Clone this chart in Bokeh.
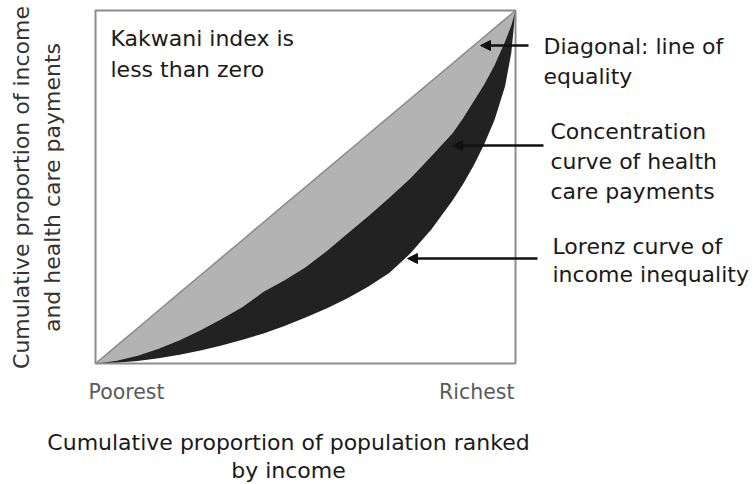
from bokeh.plotting import figure
from bokeh.models import Range1d, Label, Arrow, NormalHead, ColumnDataSource
from bokeh.embed import file_html
from bokeh.resources import INLINE

# ---- data ----
population_share = [0, 0.05, 0.1, 0.15, 0.2, 0.25, 0.3, 0.35, 0.4, 0.45, 0.5, 0.55,
                    0.6, 0.65, 0.7, 0.75, 0.8, 0.85, 0.875, 0.9, 0.925, 0.95, 0.975, 0.99, 1.0]
equality_share = [0, 0.05, 0.1, 0.15, 0.2, 0.25, 0.3, 0.35, 0.4, 0.45, 0.5, 0.55,
                  0.6, 0.65, 0.7, 0.75, 0.8, 0.85, 0.875, 0.9, 0.925, 0.95, 0.975, 0.99, 1.0]
concentration_share = [0, 0.008, 0.022, 0.042, 0.066, 0.094, 0.126, 0.160, 0.203, 0.236,
                       0.273, 0.318, 0.368, 0.418, 0.470, 0.525, 0.588, 0.652, 0.695,
                       0.742, 0.790, 0.845, 0.912, 0.958, 1.0]
lorenz_share = [0, 0.002, 0.007, 0.015, 0.025, 0.037, 0.051, 0.067, 0.085, 0.106,
                0.130, 0.156, 0.185, 0.218, 0.257, 0.312, 0.380, 0.462, 0.508, 0.560,
                0.620, 0.690, 0.785, 0.880, 1.0]
x_tick_labels = ["Poorest", "Richest"]

FONT = "DejaVu Sans"
FS = "22px"

W, H = 753, 484
BOX_L, BOX_T, BOX_W, BOX_H = 95, 10, 420, 353

# the frame fills the whole canvas; the unit square [0,1]x[0,1] is the chart box
p = figure(width=W, height=H, output_backend="svg", toolbar_location=None,
           x_range=Range1d(-BOX_L / BOX_W, (W - BOX_L) / BOX_W),
           y_range=Range1d(-(H - BOX_T - BOX_H) / BOX_H, (BOX_T + BOX_H) / BOX_H),
           x_axis_location=None, y_axis_location=None,
           min_border=0)
p.grid.visible = False
p.outline_line_color = None
p.background_fill_color = "white"
p.border_fill_color = "white"

src = ColumnDataSource(dict(x=population_share, eq=equality_share,
                            conc=concentration_share, lor=lorenz_share))
p.varea(x="x", y1="conc", y2="eq", source=src, fill_color="#b3b3b3")
p.varea(x="x", y1="lor", y2="conc", source=src, fill_color="#222222")
p.line(x="x", y="eq", source=src, line_color="#8a8a8a", line_width=1.5)
p.quad(left=[0], right=[1], bottom=[0], top=[1], fill_color=None,
       line_color="#8c8c8c", line_width=2)


def dx(px):
    return (px - BOX_L) / BOX_W


def dy(py):
    return ((BOX_T + BOX_H) - py) / BOX_H


def add_text(txt, px, py, align="left", color="#1a1a1a", angle=0, size=FS):
    p.add_layout(Label(x=dx(px), y=dy(py), text=txt, text_font=FONT,
                       text_font_size=size, text_color=color, text_align=align,
                       text_baseline="middle", angle=angle))


add_text("Kakwani index is", 110, 38)
add_text("less than zero", 110, 69)

add_text("Diagonal: line of", 543, 46)
add_text("equality", 543, 76)
add_text("Concentration", 550, 131)
add_text("curve of health", 550, 161)
add_text("care payments", 550, 191)
add_text("Lorenz curve of", 552, 246)
add_text("income inequality", 552, 274)

add_text(x_tick_labels[0], 88, 391, color="#5a5a5a", size="20.5px")
add_text(x_tick_labels[1], 514, 391, align="right", color="#5a5a5a", size="20.5px")

add_text("Cumulative proportion of population ranked", 288, 442, align="center")
add_text("by income", 288, 470, align="center")

add_text("Cumulative proportion of income", 21, 187, align="center",
         angle=1.5707963, color="#333333")
add_text("and health care payments", 52, 187, align="center",
         angle=1.5707963, color="#333333")

for xs, xe, py in [(528, 480, 45), (543, 452, 145), (537, 407, 258)]:
    p.add_layout(Arrow(end=NormalHead(size=10, fill_color="#111111", line_color="#111111"),
                       x_start=dx(xs), y_start=dy(py), x_end=dx(xe), y_end=dy(py),
                       line_color="#111111", line_width=2.5))

open("out.html", "w").write(file_html(p, INLINE))
